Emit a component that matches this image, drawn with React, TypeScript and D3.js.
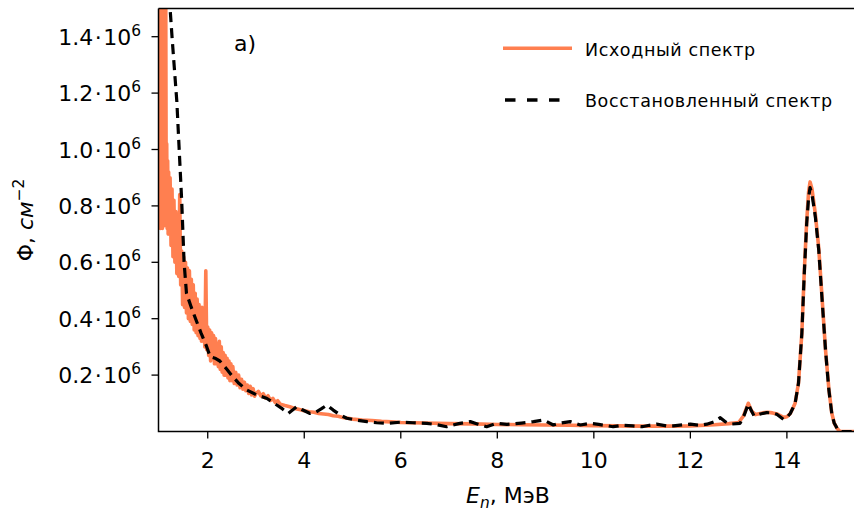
import React, { useEffect } from "react";
import * as d3 from "d3";

// Energy (MeV) and flux (×10^6 cm^-2) — original spectrum
const origE: number[] = [
  1.0, 1.01, 1.02, 1.03, 1.04, 1.05, 1.06, 1.07, 1.08, 1.09, 1.1, 1.11, 1.12, 1.13, 1.14, 1.15, 1.16, 1.17, 1.18, 1.19,
  1.2, 1.22, 1.24, 1.26, 1.28, 1.3, 1.32, 1.34, 1.36, 1.38, 1.4, 1.42, 1.44, 1.46, 1.48, 1.5, 1.52, 1.54, 1.56, 1.58,
  1.6, 1.62, 1.64, 1.66, 1.68, 1.7, 1.72, 1.74, 1.76, 1.78, 1.8, 1.82, 1.84, 1.86, 1.87, 1.88, 1.9, 1.92, 1.94, 1.96,
  1.98, 2.0, 2.02, 2.04, 2.06, 2.08, 2.1, 2.12, 2.14, 2.16, 2.18, 2.2, 2.22, 2.24, 2.26, 2.28, 2.3, 2.32, 2.34, 2.36,
  2.38, 2.4, 2.42, 2.44, 2.46, 2.48, 2.5, 2.52, 2.55, 2.58, 2.61, 2.64, 2.67, 2.7, 2.73, 2.76, 2.79, 2.82, 2.85, 2.88,
  2.91, 2.94, 2.97, 3.0, 3.05, 3.1, 3.15, 3.2, 3.25, 3.3, 3.35, 3.4, 3.45, 3.5, 3.6, 3.7, 3.8, 3.9, 4.0, 4.1,
  4.2, 4.3, 4.4, 4.5, 4.6, 4.7, 4.8, 4.9, 5.0, 5.2, 5.4, 5.6, 5.8, 6.0, 6.5, 7.0, 7.5, 8.0, 8.5, 9.0,
  9.5, 10.0, 10.5, 11.0, 11.5, 12.0, 12.5, 12.8, 13.0, 13.1, 13.2, 13.27, 13.35, 13.5, 13.6, 13.7, 13.8, 13.93, 14.0, 14.07,
  14.13, 14.17, 14.24, 14.31, 14.36, 14.41, 14.45, 14.48, 14.52, 14.59, 14.66, 14.73, 14.8, 14.87, 14.93, 14.98, 15.04, 15.1, 15.4,
];
const origFlux: number[] = [
  0.73, 1.6, 0.72, 1.58, 0.75, 1.6, 0.72, 1.3, 0.74, 1.29, 0.73, 1.6, 0.76, 1.55, 0.78, 1.02, 0.72, 0.96, 0.7, 0.92,
  0.74, 0.9, 0.66, 0.86, 0.62, 0.82, 0.6, 0.78, 0.56, 0.72, 0.55, 0.84, 0.52, 0.64, 0.45, 0.62, 0.44, 0.6, 0.42, 0.58,
  0.4, 0.57, 0.39, 0.54, 0.38, 0.52, 0.36, 0.49, 0.35, 0.47, 0.34, 0.45, 0.33, 0.42, 0.32, 0.44, 0.32, 0.4, 0.3, 0.57,
  0.29, 0.37, 0.27, 0.36, 0.25, 0.35, 0.26, 0.34, 0.24, 0.33, 0.24, 0.31, 0.23, 0.32, 0.22, 0.3, 0.21, 0.28, 0.2, 0.27,
  0.2, 0.26, 0.19, 0.25, 0.18, 0.24, 0.18, 0.23, 0.17, 0.21, 0.165, 0.2, 0.155, 0.185, 0.15, 0.175, 0.145, 0.165, 0.135, 0.16,
  0.13, 0.152, 0.125, 0.135, 0.142, 0.126, 0.134, 0.118, 0.127, 0.11, 0.117, 0.103, 0.109, 0.097, 0.092, 0.088, 0.082, 0.078, 0.074, 0.07,
  0.068, 0.064, 0.062, 0.06, 0.056, 0.054, 0.05, 0.047, 0.044, 0.041, 0.039, 0.036, 0.034, 0.032, 0.03, 0.028, 0.027, 0.025, 0.024, 0.023,
  0.022, 0.021, 0.02, 0.019, 0.019, 0.02, 0.024, 0.028, 0.032, 0.055, 0.1, 0.072, 0.06, 0.066, 0.068, 0.066, 0.062, 0.05, 0.052, 0.064,
  0.085, 0.1, 0.171, 0.35, 0.565, 0.745, 0.85, 0.885, 0.86, 0.77, 0.65, 0.47, 0.29, 0.15, 0.065, 0.03, 0.011, 0.0, 0.0,
];

// Reconstructed spectrum
const recE: number[] = [
  1.18, 1.26, 1.36, 1.46, 1.51, 1.56, 1.66, 1.77, 1.86, 1.98, 2.05, 2.15, 2.25, 2.4, 2.52, 2.65, 2.81, 3.02, 3.22, 3.43,
  3.55, 3.67, 3.75, 3.84, 3.95, 4.12, 4.25, 4.35, 4.47, 4.6, 4.75, 4.88, 5.1, 5.3, 5.5, 5.71, 6.0, 6.25, 6.54, 6.75,
  6.95, 7.2, 7.44, 7.6, 7.78, 7.99, 8.2, 8.5, 8.75, 8.96, 9.16, 9.3, 9.51, 9.72, 9.92, 10.1, 10.4, 10.6, 10.8, 11.0,
  11.15, 11.3, 11.5, 11.65, 11.85, 12.0, 12.2, 12.34, 12.5, 12.62, 12.73, 12.83, 13.03, 13.12, 13.2, 13.26, 13.32, 13.45, 13.58, 13.7,
  13.79, 13.93, 14.0, 14.07, 14.13, 14.17, 14.24, 14.31, 14.36, 14.41, 14.45, 14.48, 14.52, 14.59, 14.66, 14.73, 14.8, 14.87, 14.93, 14.98,
  15.04, 15.1, 15.4,
];
const recFlux: number[] = [
  1.6, 1.4, 1.17, 0.82, 0.6, 0.49, 0.44, 0.39, 0.35, 0.3, 0.265, 0.26, 0.25, 0.22, 0.194, 0.17, 0.147, 0.129, 0.118, 0.094,
  0.08, 0.064, 0.075, 0.088, 0.078, 0.064, 0.07, 0.08, 0.094, 0.076, 0.058, 0.047, 0.04, 0.035, 0.031, 0.029, 0.033, 0.031, 0.029, 0.024,
  0.017, 0.028, 0.035, 0.026, 0.017, 0.029, 0.025, 0.03, 0.035, 0.041, 0.023, 0.03, 0.035, 0.023, 0.029, 0.025, 0.017, 0.022, 0.02, 0.017,
  0.022, 0.026, 0.02, 0.02, 0.024, 0.026, 0.022, 0.026, 0.035, 0.049, 0.034, 0.026, 0.029, 0.06, 0.098, 0.075, 0.055, 0.062, 0.067, 0.066,
  0.061, 0.043, 0.05, 0.064, 0.085, 0.1, 0.171, 0.348, 0.56, 0.737, 0.83, 0.865, 0.84, 0.761, 0.643, 0.466, 0.289, 0.147, 0.064, 0.03,
  0.011, 0.0, 0.0,
];

const xTicks: number[] = [2, 4, 6, 8, 10, 12, 14];
const yTicks: number[] = [0.2, 0.4, 0.6, 0.8, 1.0, 1.2, 1.4];
const yTickLabels: string[] = ["0.2", "0.4", "0.6", "0.8", "1.0", "1.2", "1.4"];
const seriesNames: string[] = ["Исходный спектр", "Восстановленный спектр"];

const FONT = "DejaVu Sans";
const L = 158.5, R = 853.5, T = 8.5, B = 431.5;

export default function App() {
  useEffect(() => {
    document.body.style.margin = "0";
  }, []);

  const x = d3.scaleLinear().domain([0.98, 15.38]).range([L, R]);
  const y = d3.scaleLinear().domain([0, 1.5]).range([B, T]);
  const line = d3
    .line<[number, number]>()
    .x((d) => x(d[0]))
    .y((d) => y(d[1]));

  const orig = origE.map((e, i) => [e, origFlux[i]] as [number, number]);
  const rec = recE.map((e, i) => [e, recFlux[i]] as [number, number]);

  return (
    <svg width={854} height={515} style={{ display: "block", background: "#fff" }} fontFamily={FONT}>
      <defs>
        <clipPath id="plotclip">
          <rect x={L} y={T} width={R - L + 2} height={B - T} />
        </clipPath>
      </defs>
      <g clipPath="url(#plotclip)">
        <path d={line(orig) || ""} fill="none" stroke="#ff7f50" strokeWidth={3.6} strokeLinejoin="round" />
        <path
          d={line(rec) || ""}
          fill="none"
          stroke="#000"
          strokeWidth={3.2}
          strokeDasharray="10 6"
          strokeLinejoin="round"
        />
      </g>
      {/* spines */}
      <path d={`M${L},${T}H${R + 3}M${L},${T}V${B}H${R + 3}`} fill="none" stroke="#000" strokeWidth={1.5} />
      {/* x ticks */}
      {xTicks.map((t) => (
        <g key={"x" + t}>
          <line x1={x(t)} x2={x(t)} y1={B} y2={B + 7} stroke="#000" strokeWidth={1.3} />
          <text x={x(t)} y={468} fontSize={22} textAnchor="middle">
            {t}
          </text>
        </g>
      ))}
      {/* y ticks */}
      {yTicks.map((t, i) => (
        <g key={"y" + t}>
          <line x1={L - 7} x2={L} y1={y(t)} y2={y(t)} stroke="#000" strokeWidth={1.3} />
          <text x={141} y={y(t) + 8} fontSize={22} textAnchor="end">
            <tspan>{yTickLabels[i]}</tspan>
            <tspan dx={1.5}>·</tspan>
            <tspan dx={1.5}>10</tspan>
            <tspan fontSize={15.4} dy={-9}>
              6
            </tspan>
          </text>
        </g>
      ))}
      {/* axis labels */}
      <text x={508} y={502.5} fontSize={22} textAnchor="middle">
        <tspan fontStyle="italic">E</tspan>
        <tspan fontStyle="italic" fontSize={15.4} dy={5}>
          n
        </tspan>
        <tspan dy={-5}>, МэВ</tspan>
      </text>
      <text transform={`translate(33,220) rotate(-90)`} fontSize={22} textAnchor="middle">
        <tspan>Φ, </tspan>
        <tspan fontStyle="italic">см</tspan>
        <tspan fontSize={15.4} dy={-9}>
          −2
        </tspan>
      </text>
      {/* panel label */}
      <text x={234} y={51} fontSize={22}>
        a)
      </text>
      {/* legend */}
      <line x1={503} x2={572} y1={48.3} y2={48.3} stroke="#ff7f50" strokeWidth={3.6} />
      <text x={585} y={55.5} fontSize={17.5} letterSpacing={0.6}>
        {seriesNames[0]}
      </text>
      <line x1={505} x2={561} y1={100} y2={100} stroke="#000" strokeWidth={3.6} strokeDasharray="10.5 11.5" />
      <text x={585} y={107} fontSize={17.5} letterSpacing={0.6}>
        {seriesNames[1]}
      </text>
    </svg>
  );
}
